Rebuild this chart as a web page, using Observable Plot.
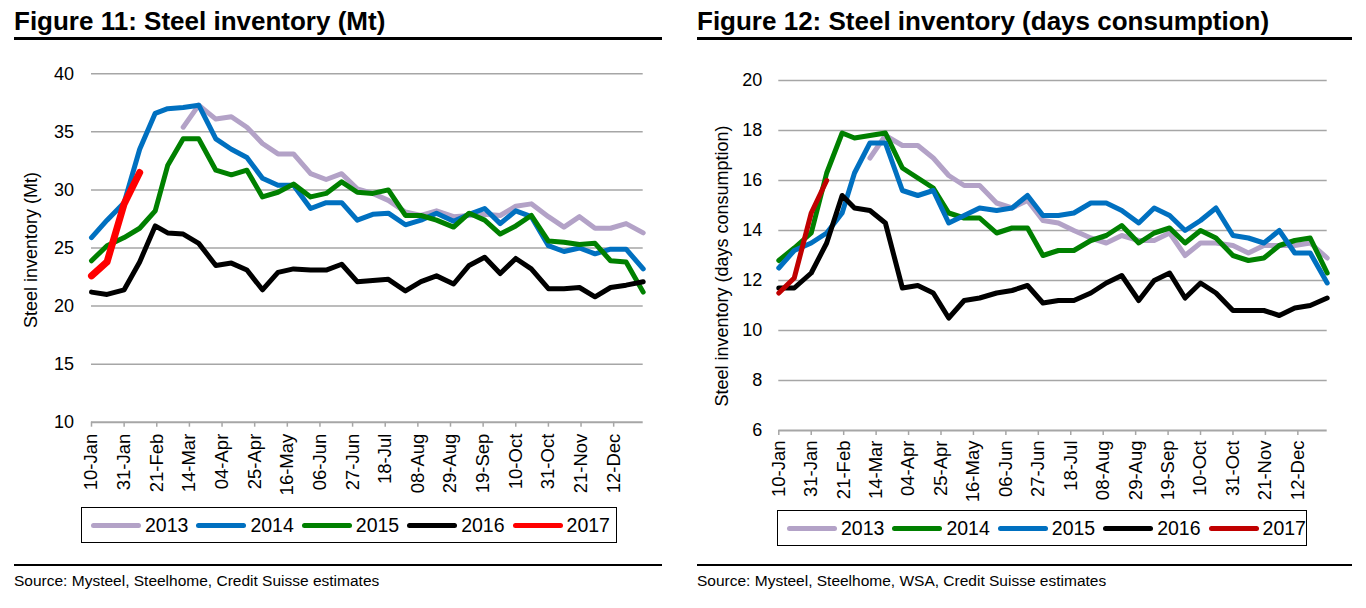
<!DOCTYPE html>
<html><head><meta charset="utf-8">
<script src="https://cdn.jsdelivr.net/npm/d3@7"></script>
<script src="https://cdn.jsdelivr.net/npm/@observablehq/plot@0.6"></script>
<style>
body{margin:0;background:#fff;font-family:"Liberation Sans",Arial,sans-serif;color:#000;}
#root{position:relative;width:1366px;height:608px;overflow:hidden;}
.abs{position:absolute;}
.title{font-weight:bold;font-size:26px;line-height:30px;white-space:nowrap;}
.uline{height:3px;background:#000;}
.rule{height:2px;background:#000;}
.src{font-size:15.5px;line-height:18px;white-space:nowrap;}
.ylab{font-size:18px;white-space:nowrap;transform:translate(-50%,-50%) rotate(-90deg);}
.legend{border:1.5px solid #000;box-sizing:border-box;display:flex;align-items:center;padding-left:9px;gap:8px;}
.item{display:flex;align-items:center;font-size:19.5px;line-height:20px;}
.sw{width:50px;height:5px;border-radius:3px;margin-right:4px;}
svg{overflow:visible;}
</style></head><body><div id="root"></div>
<script>
// ---- data ----
const dates = ["2015-01-10","2015-01-20","2015-01-31","2015-02-10","2015-02-20","2015-02-28",
  "2015-03-10","2015-03-20","2015-03-31","2015-04-10","2015-04-20","2015-04-30",
  "2015-05-10","2015-05-20","2015-05-31","2015-06-10","2015-06-20","2015-06-30",
  "2015-07-10","2015-07-20","2015-07-31","2015-08-10","2015-08-20","2015-08-31",
  "2015-09-10","2015-09-20","2015-09-30","2015-10-10","2015-10-20","2015-10-31",
  "2015-11-10","2015-11-20","2015-11-30","2015-12-10","2015-12-20","2015-12-31"];
const tickLabels = ["10-Jan","31-Jan","21-Feb","14-Mar","04-Apr","25-Apr","16-May","06-Jun","27-Jun",
  "18-Jul","08-Aug","29-Aug","19-Sep","10-Oct","31-Oct","21-Nov","12-Dec"];
const years = ["2013","2014","2015","2016","2017"];

// Figure 11: Steel inventory (Mt)
const mt2013 = [null,null,null,null,null,null,35.4,37.3,36.1,36.3,35.4,34.0,33.1,33.1,31.4,30.9,31.4,30.1,
  29.7,29.1,28.1,27.8,28.2,27.7,27.8,27.9,27.8,28.6,28.8,27.7,26.8,27.7,26.7,26.7,27.1,26.3];
const mt2014 = [25.9,27.4,28.9,33.5,36.6,37.0,37.1,37.3,34.4,33.5,32.8,31.0,30.4,30.4,28.4,28.9,28.9,27.4,
  27.9,28.0,27.0,27.4,28.0,27.3,27.9,28.4,27.1,28.2,27.7,25.2,24.7,25.0,24.5,24.9,24.9,23.2];
const mt2015 = [23.9,25.2,25.9,26.7,28.2,32.1,34.4,34.4,31.7,31.3,31.7,29.4,29.8,30.5,29.4,29.7,30.7,29.8,
  29.7,30.0,27.8,27.8,27.4,26.8,28.0,27.4,26.2,26.9,27.8,25.6,25.5,25.3,25.4,23.9,23.8,21.2];
const mt2016 = [21.2,21.0,21.4,23.8,26.9,26.3,26.2,25.4,23.5,23.7,23.1,21.4,22.9,23.2,23.1,23.1,23.6,22.1,
  22.2,22.3,21.3,22.1,22.6,21.9,23.5,24.2,22.8,24.1,23.2,21.5,21.5,21.6,20.8,21.6,21.8,22.1];
const mt2017 = [22.6,23.8,28.8,31.5];
const mtTicks = [10,15,20,25,30,35,40];

// Figure 12: Steel inventory (days consumption)
const dc2013 = [null,null,null,null,null,null,16.9,17.8,17.4,17.4,16.9,16.2,15.8,15.8,15.1,14.9,15.2,14.4,
  14.3,14.0,13.7,13.5,13.8,13.6,13.6,13.9,13.0,13.5,13.5,13.4,13.1,13.4,13.4,13.4,13.5,12.9];
const dc2014 = [12.8,13.3,13.9,16.3,17.9,17.7,17.8,17.9,16.5,16.1,15.7,14.7,14.5,14.5,13.9,14.1,14.1,13.0,
  13.2,13.2,13.6,13.8,14.2,13.5,13.9,14.1,13.5,14.0,13.7,13.0,12.8,12.9,13.4,13.6,13.7,12.3];
const dc2015 = [12.5,13.2,13.5,13.9,14.7,16.3,17.5,17.5,15.6,15.4,15.6,14.3,14.6,14.9,14.8,14.9,15.4,14.6,
  14.6,14.7,15.1,15.1,14.8,14.3,14.9,14.6,14.0,14.4,14.9,13.8,13.7,13.5,14.0,13.1,13.1,11.9];
const dc2016 = [11.7,11.7,12.3,13.5,15.4,14.9,14.8,14.3,11.7,11.8,11.5,10.5,11.2,11.3,11.5,11.6,11.8,11.1,
  11.2,11.2,11.5,11.9,12.2,11.2,12.0,12.3,11.3,11.9,11.5,10.8,10.8,10.8,10.6,10.9,11.0,11.3];
const dc2017 = [11.5,12.1,14.7,16.0];
const dcTicks = [6,8,10,12,14,16,18,20];

// ---- drawing ----
const FONT = '"Liberation Sans", Arial, sans-serif';
const parse = d3.utcParse("%Y-%m-%d");
const parseTick = d3.utcParse("%d-%b-%Y");
const tickDates = tickLabels.map(s => parseTick(s + "-2015"));
const root = document.getElementById("root");

function el(cls, css, text) {
  const d = document.createElement("div");
  d.className = "abs " + cls;
  Object.assign(d.style, css);
  if (text != null) d.textContent = text;
  root.appendChild(d);
  return d;
}

function figure(cfg) {
  const rows = [];
  cfg.series.forEach((s, k) => s.forEach((v, i) => {
    if (v != null) rows.push({date: parse(dates[i]), year: years[k], value: v});
  }));
  const chart = Plot.plot({
    width: 683, height: 450,
    marginLeft: cfg.ml, marginRight: cfg.mr, marginTop: cfg.mt, marginBottom: cfg.mb,
    style: {fontFamily: FONT, fontSize: "18px", color: "#000", background: "transparent", overflow: "visible"},
    x: {type: "utc", domain: [parse(dates[0]), parse(dates[dates.length - 1])]},
    y: {domain: [cfg.ticks[0], cfg.ticks[cfg.ticks.length - 1]]},
    marks: [
      Plot.gridY(cfg.ticks.slice(1), {stroke: "#a6a6a6", strokeOpacity: 1, strokeWidth: 1.5}),
      Plot.axisY(cfg.ticks, {tickSize: 0, tickPadding: cfg.ypad, fontSize: 18, fill: "#000", label: null}),
      Plot.axisX(tickDates, {tickSize: 5, tickPadding: cfg.xpad, tickRotate: -90, stroke: "#a6a6a6", strokeWidth: 1.5,
        fill: "#000", fontSize: 18.5, label: null, tickFormat: d3.utcFormat("%d-%b")}),
      Plot.ruleY([cfg.ticks[0]], {stroke: "#a6a6a6", strokeWidth: 2}),
      ...years.map((yr, k) => Plot.lineY(rows.filter(r => r.year === yr), {
        x: "date", y: "value", stroke: cfg.colors[k], strokeWidth: cfg.widths[k],
        strokeLinejoin: "round", strokeLinecap: "round"}))
    ]
  });
  const wrap = el("", {left: cfg.left + "px", top: "50px"});
  wrap.appendChild(chart);

  el("title", {left: cfg.x0 + "px", top: "6px"}, cfg.title);
  el("uline", {left: cfg.x0 + "px", top: "37px", width: cfg.w + "px"});
  el("ylab", {left: cfg.ylx + "px", top: cfg.yly + "px"}, cfg.ylabel);
  const lg = el("legend", {left: cfg.lgx + "px", top: cfg.lgy + "px", width: cfg.lgw + "px", height: "36px"});
  years.forEach((yr, k) => {
    const it = document.createElement("div");
    it.className = "item";
    const sw = document.createElement("div");
    sw.className = "sw";
    sw.style.background = cfg.colors[k];
    it.appendChild(sw);
    it.appendChild(document.createTextNode(yr));
    lg.appendChild(it);
  });
  el("rule", {left: cfg.x0 + "px", top: "564px", width: cfg.w + "px"});
  el("src", {left: cfg.x0 + "px", top: "572px"}, cfg.source);
}

figure({
  left: 0, x0: 14, w: 648,
  title: "Figure 11: Steel inventory (Mt)",
  ylabel: "Steel inventory (Mt)", ylx: 31, yly: 250,
  source: "Source: Mysteel, Steelhome, Credit Suisse estimates",
  series: [mt2013, mt2014, mt2015, mt2016, mt2017],
  colors: ["#b3a2c7", "#0070c0", "#008000", "#000000", "#ff0000"],
  widths: [5, 5, 5, 5, 7],
  ticks: mtTicks,
  ml: 91, mr: 40.3, mt: 23.3, mb: 78.3, ypad: 17.5, xpad: 6.5,
  lgx: 81, lgy: 507, lgw: 536
});

figure({
  left: 683, x0: 697, w: 655,
  title: "Figure 12: Steel inventory (days consumption)",
  ylabel: "Steel inventory (days consumption)", ylx: 722, yly: 266,
  source: "Source: Mysteel, Steelhome, WSA, Credit Suisse estimates",
  series: [dc2013, dc2014, dc2015, dc2016, dc2017],
  colors: ["#b3a2c7", "#008000", "#0070c0", "#000000", "#c00000"],
  widths: [5, 5, 5, 5, 5],
  ticks: dcTicks,
  ml: 95.3, mr: 39.3, mt: 30, mb: 70, ypad: 16.5, xpad: 5,
  lgx: 777, lgy: 510, lgw: 530
});
</script></body></html>
